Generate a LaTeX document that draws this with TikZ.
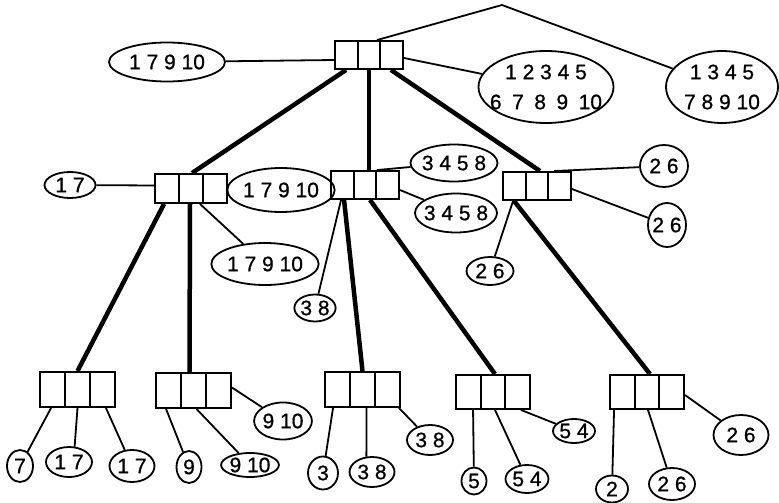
\documentclass[tikz,border=0pt]{standalone}
\usepackage{fontspec}
\setmainfont{Liberation Sans}
\newfontfamily\digitfont{Liberation Sans}[FakeBold=0.8]
\usetikzlibrary{shapes.geometric,calc}

\tikzset{
  digits/.style={font=\digitfont\fontsize{21}{30}\selectfont},
  setnode/.style={ellipse, draw, line width=1.8pt, inner sep=0pt, digits},
  tribox/.style={draw, line width=1.9pt, inner sep=0pt,
    path picture={
      \draw[line width=1.9pt]
        ($(path picture bounding box.north west)!1/3!(path picture bounding box.north east)$) --
        ($(path picture bounding box.south west)!1/3!(path picture bounding box.south east)$)
        ($(path picture bounding box.north west)!2/3!(path picture bounding box.north east)$) --
        ($(path picture bounding box.south west)!2/3!(path picture bounding box.south east)$);
    }},
  thin/.style={line width=1.8pt},
  thick/.style={line width=4.5pt},
}

\begin{document}
\begin{tikzpicture}[x=1pt, y=-1pt]
\path[use as bounding box] (0,0) rectangle (779,503);

% ---------- three-cell boxes ----------
\node[tribox, minimum width=68pt, minimum height=28pt] (root) at (369,55) {};
\node[tribox, minimum width=72pt, minimum height=29pt] (L2a) at (191,188.5) {};
\node[tribox, minimum width=68pt, minimum height=28pt] (L2b) at (365,185) {};
\node[tribox, minimum width=68pt, minimum height=28pt] (L2c) at (537,186) {};
\node[tribox, minimum width=75pt, minimum height=35pt] (B1) at (77.5,389.5) {};
\node[tribox, minimum width=75pt, minimum height=35pt] (B2) at (193.5,390.5) {};
\node[tribox, minimum width=75pt, minimum height=35pt] (B3) at (362.5,389.5) {};
\node[tribox, minimum width=74pt, minimum height=34pt] (B4) at (493,392) {};
\node[tribox, minimum width=74pt, minimum height=34pt] (B5) at (647,392) {};

% ---------- set labels ----------
\node[setnode, minimum width=116pt, minimum height=39pt] (etop) at (167,62) {1 7 9 10};
\node[setnode, minimum width=135pt, minimum height=72pt, inner xsep=-9pt, align=center] (eall) at (546,87)
  {1 2 3 4 5\\6\hspace{10.5pt}7\hspace{10.5pt}8\hspace{10.5pt}9\hspace{10.5pt}10};
\node[setnode, minimum width=112pt, minimum height=72pt, align=center] (ert) at (722,87)
  {1 3 4 5\\7 8 9 10};

\node[setnode, minimum width=51pt, minimum height=26pt] (e17) at (70,185) {1 7};
\node[setnode, minimum width=88pt, minimum height=44pt] (eA) at (281,190) {1 7 9 10};
\node[setnode, minimum width=94pt, minimum height=42pt] (eB) at (265,264) {1 7 9 10};
\node[setnode, minimum width=87pt, minimum height=37pt, inner xsep=-2pt] (eC) at (454,163) {3 4 5 8};
\node[setnode, minimum width=82pt, minimum height=39pt, inner xsep=-4pt] (eD) at (456,213) {3 4 5 8};
\node[setnode, minimum width=40pt, minimum height=27pt] (eE) at (315,308) {3 8};
\node[setnode, minimum width=48pt, minimum height=42pt] (eF) at (664,166) {2 6};
\node[setnode, minimum width=38pt, minimum height=44pt, inner xsep=-2pt] (eG) at (667,225) {2 6};
\node[setnode, minimum width=47pt, minimum height=28pt] (eH) at (490,271) {2 6};

\node[setnode, minimum width=26pt, minimum height=32pt] (e7) at (20,466) {7};
\node[setnode, minimum width=46pt, minimum height=30pt] (e17b) at (69,462) {1 7};
\node[setnode, minimum width=45pt, minimum height=32pt] (e17c) at (132,466) {1 7};
\node[setnode, minimum width=25pt, minimum height=32pt] (e9) at (189,467) {9};
\node[setnode, minimum width=57pt, minimum height=24pt, inner ysep=-1pt] (e910a) at (250,465) {9 10};
\node[setnode, minimum width=53pt, minimum height=37pt] (e910b) at (283,421) {9 10};
\node[setnode, minimum width=30pt, minimum height=33pt] (e3) at (323,473) {3};
\node[setnode, minimum width=45pt, minimum height=30pt] (e38a) at (372,472) {3 8};
\node[setnode, minimum width=46pt, minimum height=30pt] (e38b) at (430,440) {3 8};
\node[setnode, minimum width=25pt, minimum height=27pt] (e5) at (474,481) {5};
\node[setnode, minimum width=43pt, minimum height=28pt] (e54a) at (527,479) {5 4};
\node[setnode, minimum width=42pt, minimum height=24pt, inner ysep=-1pt] (e54b) at (574,431) {5 4};
\node[setnode, minimum width=32pt, minimum height=27pt] (e2) at (612,489) {2};
\node[setnode, minimum width=46pt, minimum height=32pt] (e26d) at (672,484) {2 6};
\node[setnode, minimum width=55pt, minimum height=40pt] (e26e) at (741,435) {2 6};

\coordinate (apex) at (502,5);

% ---------- tree edges ----------
\draw[thick] ($(root.south west)+(12,0)$) -- ($(L2a.north)+(1,0)$);
\draw[thick] (root.south) -- ($(L2b.north)+(4,0)$);
\draw[thick] ($(root.south east)+(-13,0)$) -- ($(L2c.north)+(3,0)$);
\draw[thick] ($(L2a.south west)+(10,0)$) -- (B1.north);
\draw[thick] ($(L2a.south)+(-1,0)$) -- ($(B2.north)+(-4,0)$);
\draw[thick] ($(L2b.south west)+(14,0)$) -- (B3.north);
\draw[thick] ($(L2b.south)+(5,0)$) -- ($(B4.north)+(2,0)$);
\draw[thick] ($(L2c.south west)+(12,0)$) -- ($(B5.north)+(3,0)$);

% ---------- label links ----------
\draw[thin] ($(root.west)+(0,5)$) -- (etop);
\draw[thin] ($(root.east)+(0,3)$) -- (eall);
\draw[thin] ($(root.north)+(8,0)$) -- (apex) -- (ert);

\draw[thin] ($(L2a.west)+(0,-3)$) -- (e17);
\draw[thin] (L2a.east) -- (eA);
\draw[thin] ($(L2a.south)+(9,0)$) -- (eB);
\draw[thin] ($(L2b.north)+(12,0)$) -- (eC);
\draw[thin] ($(L2b.east)+(0,5)$) -- (eD);
\draw[thin] ($(L2b.south west)+(11,0)$) -- (eE);
\draw[thin] ($(L2c.north east)+(-18,0)$) -- (eF);
\draw[thin] ($(L2c.east)+(0,3)$) -- (eG);
\draw[thin] ($(L2c.south west)+(11,0)$) -- (eH);

\draw[thin] ($(B1.south west)+(12,0)$) -- (e7);
\draw[thin] (B1.south) -- (e17b.70);
\draw[thin] ($(B1.south east)+(-10,0)$) -- (e17c);
\draw[thin] ($(B2.south west)+(11,0)$) -- (e9);
\draw[thin] ($(B2.south)+(3,0)$) -- (e910a);
\draw[thin] ($(B2.east)+(0,-3)$) -- (e910b);
\draw[thin] ($(B3.south west)+(9,0)$) -- (e3);
\draw[thin] ($(B3.south)+(4,0)$) -- (e38a.110);
\draw[thin] ($(B3.south east)+(-2,0)$) -- (e38b);
\draw[thin] ($(B4.south west)+(18,0)$) -- (e5);
\draw[thin] ($(B4.south)+(2,0)$) -- (e54a);
\draw[thin] ($(B4.south east)+(-10,0)$) -- (e54b);
\draw[thin] ($(B5.south west)+(5,0)$) -- (e2);
\draw[thin] ($(B5.south)+(1,0)$) -- (e26d);
\draw[thin] ($(B5.east)+(0,3)$) -- (e26e);
\end{tikzpicture}
\end{document}
